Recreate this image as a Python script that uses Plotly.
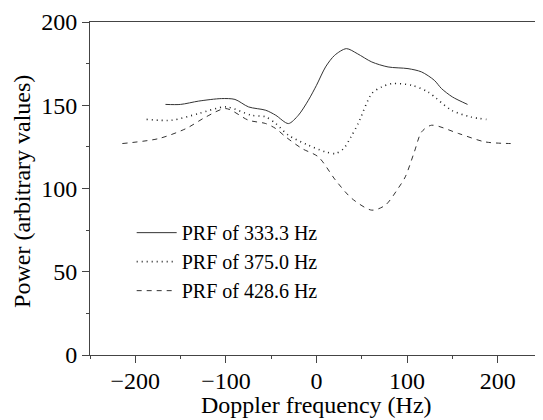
import plotly.graph_objects as go

# Data (Doppler frequency in Hz, power in arbitrary units)
x_333 = [-166.7, -150, -130, -105, -90, -75, -56, -45, -31, -20, -9, 0, 10, 20, 33, 45, 61, 79, 101, 116, 130, 138, 150, 166.7]
y_333 = [150.5, 150.5, 152.5, 154, 153.5, 149, 147, 144, 139, 144, 153, 162, 173, 180, 184, 181, 176, 173, 172, 170, 165, 160, 155, 150.5]

x_375 = [-187.5, -160, -130, -100, -72, -56, -45, -31, -9, 10, 21, 30, 38, 46, 61, 72, 83, 105, 123, 149, 170, 187.5]
y_375 = [141.5, 141, 145, 149, 144, 143, 139, 132, 126, 122, 121, 124, 131, 139, 157, 161, 163, 162, 158, 147, 143, 141.5]

x_428 = [-214.3, -174, -144, -122, -100, -75, -56, -45, -34, -16, 2, 21, 39, 61, 76, 90, 98, 108, 116, 127, 157, 186, 214.3]
y_428 = [127, 130, 136, 143, 148, 141, 139, 136, 131, 124, 119, 105, 94, 87, 90, 100, 107, 122, 134, 138, 133, 128, 127]

names = ["PRF of 333.3 Hz", "PRF of 375.0 Hz", "PRF of 428.6 Hz"]
x_ticks = [-200, -100, 0, 100, 200]
y_ticks = [0, 50, 100, 150, 200]
x_title = "Doppler frequency (Hz)"
y_title = "Power (arbitrary values)"

FONT = "Liberation Serif"
LINE = "#333333"
AX = "#444444"

fig = go.Figure()
fig.add_trace(go.Scatter(x=x_333, y=y_333, mode="lines", name=names[0],
                         line=dict(color=LINE, width=1, shape="spline", smoothing=0.8)))
fig.add_trace(go.Scatter(x=x_375, y=y_375, mode="lines", name=names[1],
                         line=dict(color="#222222", width=1.6, shape="spline", smoothing=0.8, dash="1px,4px")))
fig.add_trace(go.Scatter(x=x_428, y=y_428, mode="lines", name=names[2],
                         line=dict(color=LINE, width=1, shape="spline", smoothing=0.8, dash="5px,5px")))

fig.update_layout(
    width=543, height=420,
    margin=dict(l=82, r=8, t=14, b=73),
    plot_bgcolor="white", paper_bgcolor="white",
    font=dict(family=FONT, size=24, color="black"),
    showlegend=True,
    legend=dict(x=0.092, y=0.426, xanchor="left", yanchor="top",
                font=dict(family=FONT, size=20, color="black"),
                bgcolor="rgba(0,0,0,0)", tracegroupgap=0, itemwidth=40),
    xaxis=dict(range=[-250, 250], tickvals=x_ticks,
               ticktext=[("\u2212" + str(-v)) if v < 0 else str(v) for v in x_ticks],
               automargin=False, ticklabelstandoff=-3,
               showline=True, linecolor=AX, linewidth=1, mirror=True,
               ticks="outside", ticklen=7, tickwidth=1, tickcolor=AX,
               minor=dict(dtick=50, ticks="outside", ticklen=3, tickwidth=1, tickcolor=AX, showgrid=False),
               showgrid=False, zeroline=False, tickfont=dict(size=24)),
    yaxis=dict(range=[0, 200], tickvals=y_ticks, automargin=False,
               showline=True, linecolor=AX, linewidth=1,
               ticks="outside", ticklen=7, tickwidth=1, tickcolor=AX,
               minor=dict(dtick=25, ticks="outside", ticklen=3, tickwidth=1, tickcolor=AX, showgrid=False),
               showgrid=False, zeroline=False, tickfont=dict(size=24)),
    annotations=[
        dict(text=x_title, xref="paper", yref="paper", x=0.5, y=-0.15,
             xanchor="center", yanchor="middle", showarrow=False,
             font=dict(family=FONT, size=24, color="black")),
        dict(text=y_title, xref="paper", yref="paper", x=-0.15, y=0.49,
             xanchor="center", yanchor="middle", textangle=-90, showarrow=False,
             font=dict(family=FONT, size=24, color="black")),
    ],
)

fig.write_html("out.html")
